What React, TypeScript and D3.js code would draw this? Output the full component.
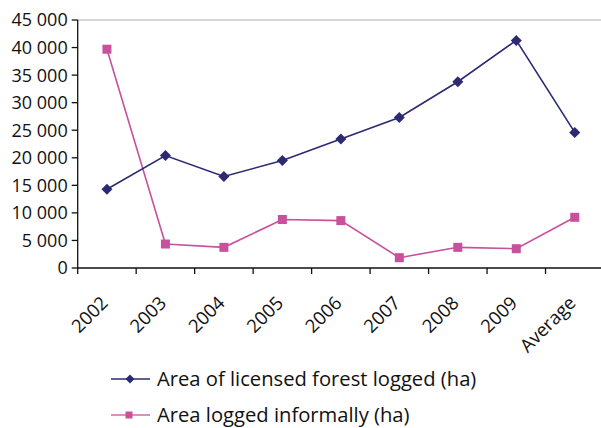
import * as d3 from "d3";

const categories = ["2002", "2003", "2004", "2005", "2006", "2007", "2008", "2009", "Average"];
const licensedValues = [14300, 20400, 16600, 19500, 23400, 27300, 33800, 41300, 24600];
const informalValues = [39700, 4350, 3750, 8800, 8600, 1870, 3750, 3500, 9200];
const yTicks = [0, 5000, 10000, 15000, 20000, 25000, 30000, 35000, 40000, 45000];

const navy = "#2b2a72";
const pink = "#c8509c";
const font = "'Open Sans', 'Noto Sans', sans-serif";

const width = 601;
const height = 428;
const margin = { top: 20, left: 77.7, bottom: 160 };
const plotRight = 604;

export default function App() {
  const x = d3.scaleBand<string>().domain(categories).range([margin.left, plotRight]);
  const y = d3.scaleLinear().domain([0, 45000]).range([height - margin.bottom, margin.top]);
  const cx = (c: string) => (x(c) ?? 0) + x.bandwidth() / 2;
  const fmt = (v: number) => d3.format(",")(v).replace(/,/g, " ");

  const line = d3
    .line<number>()
    .x((_, i) => cx(categories[i]))
    .y((d) => y(d));

  const diamond = (px: number, py: number, r = 5.5) =>
    `M${px},${py - r}L${px + r},${py}L${px},${py + r}L${px - r},${py}Z`;

  const bottom = y(0);

  return (
    <svg width={width} height={height} style={{ position: "absolute", left: 0, top: 0 }}>
      <rect width={width} height={height} fill="#fff" />
      {/* frame top */}
      <line x1={margin.left} x2={plotRight} y1={y(45000)} y2={y(45000)} stroke="#c8c8c8" strokeWidth={1.5} />

      {/* y axis */}
      <line x1={margin.left} x2={margin.left} y1={y(45000)} y2={bottom} stroke="#111" strokeWidth={1.3} />
      {yTicks.map((t) => (
        <g key={t}>
          <line x1={margin.left - 6} x2={margin.left} y1={y(t)} y2={y(t)} stroke="#111" strokeWidth={1.3} />
          <text
            x={margin.left - 10}
            y={y(t)}
            dy="0.36em"
            textAnchor="end"
            fontFamily={font}
            fontSize={18}
            fill="#111"
          >
            {fmt(t)}
          </text>
        </g>
      ))}

      {/* x axis */}
      <line x1={margin.left} x2={plotRight} y1={bottom} y2={bottom} stroke="#111" strokeWidth={1.3} />
      {categories.map((c) => (
        <line
          key={c}
          x1={x(c)}
          x2={x(c)}
          y1={bottom}
          y2={bottom + 6}
          stroke="#111"
          strokeWidth={1.3}
        />
      ))}
      {categories.map((c) => (
        <text
          key={c}
          transform={`translate(${cx(c) - 7},${bottom + 27}) rotate(-45)`}
          textAnchor="end"
          dy="0.7em"
          fontFamily={font}
          fontSize={18.5}
          fill="#111"
        >
          {c}
        </text>
      ))}

      {/* series */}
      <path d={line(informalValues) ?? ""} fill="none" stroke={pink} strokeWidth={1.6} />
      {informalValues.map((v, i) => (
        <rect
          key={i}
          x={cx(categories[i]) - 4.5}
          y={y(v) - 4.5}
          width={9}
          height={9}
          fill={pink}
        />
      ))}
      <path d={line(licensedValues) ?? ""} fill="none" stroke={navy} strokeWidth={1.6} />
      {licensedValues.map((v, i) => (
        <path key={i} d={diamond(cx(categories[i]), y(v))} fill={navy} />
      ))}

      {/* legend */}
      <g fontFamily={font} fontSize={20.2} fill="#111">
        <line x1={111} x2={150} y1={379} y2={379} stroke={navy} strokeWidth={1.6} />
        <path d={diamond(130, 379, 4.5)} fill={navy} />
        <text x={157} y={379} dy="0.36em">Area of licensed forest logged (ha)</text>
        <line x1={111} x2={150} y1={415} y2={415} stroke={pink} strokeWidth={1.6} opacity={0.85} />
        <rect x={125.5} y={411.5} width={7} height={7} fill={pink} />
        <text x={157} y={415} dy="0.36em">Area logged informally (ha)</text>
      </g>
    </svg>
  );
}
